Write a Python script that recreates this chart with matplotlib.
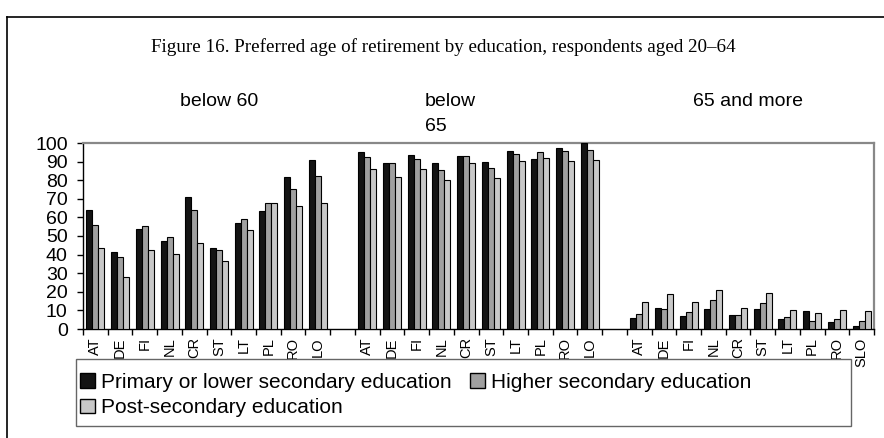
import numpy as np
import matplotlib
matplotlib.use("Agg")
import matplotlib.pyplot as plt
from matplotlib.patches import Patch, Rectangle
from matplotlib.lines import Line2D
from matplotlib.transforms import Bbox, TransformedBbox

# Country codes per block of the chart
countries_below60 = ["AT", "DE", "FI", "NL", "CR", "ST", "LT", "PL", "RO", "LO"]
countries_below65 = ["AT", "DE", "FI", "NL", "CR", "ST", "LT", "PL", "RO", "LO"]
countries_65more = ["AT", "DE", "FI", "NL", "CR", "ST", "LT", "PL", "RO", "SLO"]
block_titles = ["below 60", "below\n65", "65 and more"]

series_names = ["Primary or lower secondary education",
                "Higher secondary education",
                "Post-secondary education"]

# Share of respondents (%) per block: primary / higher secondary / post-secondary
below60_primary = [64, 41.5, 54, 47.5, 71, 43.5, 57, 63.5, 81.5, 91]
below60_higher = [56, 38.5, 55.5, 49.5, 64, 42.5, 59, 67.5, 75.5, 82]
below60_post = [43.5, 28, 42.5, 40.5, 46, 36.5, 53, 67.5, 66, 67.5]

below65_primary = [95, 89, 93.5, 89.5, 93, 90, 95.5, 91.5, 97.5, 100]
below65_higher = [92.5, 89.5, 91.5, 85.5, 93, 86.5, 94, 95, 95.5, 96.5]
below65_post = [86, 81.5, 86, 80, 89, 81, 90.5, 92, 90.5, 91]

over65_primary = [6, 11.5, 7, 11, 7.5, 11, 5.5, 9.5, 3.5, 1.5]
over65_higher = [8, 10.5, 9, 15.5, 7.5, 14, 6.5, 4.5, 5.5, 4.5]
over65_post = [14.5, 19, 14.5, 21, 11.5, 19.5, 10, 8.5, 10, 9.5]

colors = ["#141414", "#a0a0a0", "#c8c8c8"]

W, H = 884, 438
fig = plt.figure(figsize=(W / 100, H / 100), dpi=100)
plt.rcParams["font.family"] = ["Liberation Sans", "DejaVu Sans"]


def fx(px):
    return px / W


def fy(py):
    return 1 - py / H


ax = fig.add_axes([fx(83), fy(329), fx(874) - fx(83), fy(143) - fy(329)])

blocks = [
    (countries_below60, [below60_primary, below60_higher, below60_post]),
    (countries_below65, [below65_primary, below65_higher, below65_post]),
    (countries_65more, [over65_primary, over65_higher, over65_post]),
]

bar_w = 0.243
labels_all = []
centers_all = []
for b, (cats, series) in enumerate(blocks):
    base = b * 11
    xs = base + np.arange(len(cats))
    for s, vals in enumerate(series):
        ax.bar(xs + (s - 1) * bar_w, vals, width=bar_w, color=colors[s],
               edgecolor="black", linewidth=0.8, zorder=3)
    labels_all += cats
    centers_all += list(xs)

n_slots = 32
ax.set_xlim(-0.5, n_slots - 0.5)
ax.set_ylim(0, 100)

# category boundaries as ticks, country names centred in each slot
ax.set_xticks(np.arange(n_slots + 1) - 0.5)
ax.set_xticklabels([])
ax.set_xticks(centers_all, minor=True)
ax.set_xticklabels(labels_all, minor=True, rotation=90, fontsize=10.5,
                   va="top", ha="center")
ax.tick_params(axis="x", which="major", direction="out", length=4, width=1)
ax.tick_params(axis="x", which="minor", length=0, pad=6)

ax.set_yticks(np.arange(0, 101, 10))
ax.tick_params(axis="y", direction="out", length=4, width=1, labelsize=14, pad=7)

for side in ["top", "right"]:
    ax.spines[side].set_color("#888888")
    ax.spines[side].set_linewidth(1.6)
for side in ["left", "bottom"]:
    ax.spines[side].set_color("black")
    ax.spines[side].set_linewidth(1)

# outer frame lines
fig.add_artist(Line2D([fx(7), fx(7)], [fy(17), 0], color="black", lw=1.2))
fig.add_artist(Line2D([fx(7), 1], [fy(17), fy(17)], color="black", lw=1.2))

fig.text(fx(443), fy(47), "Figure 16. Preferred age of retirement by education, respondents aged 20\u201364",
         ha="center", va="center", fontsize=13.7, family="Liberation Serif")

# block headings sit behind the plot area
fig.text(fx(219), fy(102), block_titles[0], ha="center", va="center", fontsize=14, zorder=-1)
t65 = fig.text(fx(425), fy(93), block_titles[1], ha="left", va="top", fontsize=14,
               zorder=-1, linespacing=1.6)
t65.set_clip_box(TransformedBbox(Bbox([[0, fy(136)], [1, 1]]), fig.transFigure))
t65.set_clip_on(True)
fig.text(fx(748), fy(102), block_titles[2], ha="center", va="center", fontsize=14, zorder=-1)

# legend box
fig.add_artist(Rectangle((fx(76), fy(426)), fx(851) - fx(76), fy(359) - fy(426),
                         transform=fig.transFigure, facecolor="white",
                         edgecolor="#666666", lw=1, zorder=4))
handles = [Patch(facecolor=colors[i], edgecolor="black", linewidth=1, label=series_names[i])
           for i in range(3)]
order = [0, 2, 1]
fig.legend([handles[i] for i in order], [series_names[i] for i in order],
           ncol=2, loc="upper left", bbox_to_anchor=(fx(80), fy(373)),
           frameon=False, fontsize=15, handlelength=0.7, handleheight=0.7,
           handletextpad=0.3, columnspacing=0.9, labelspacing=0.3,
           borderpad=0, borderaxespad=0)

fig.savefig("out.png", dpi=100)
